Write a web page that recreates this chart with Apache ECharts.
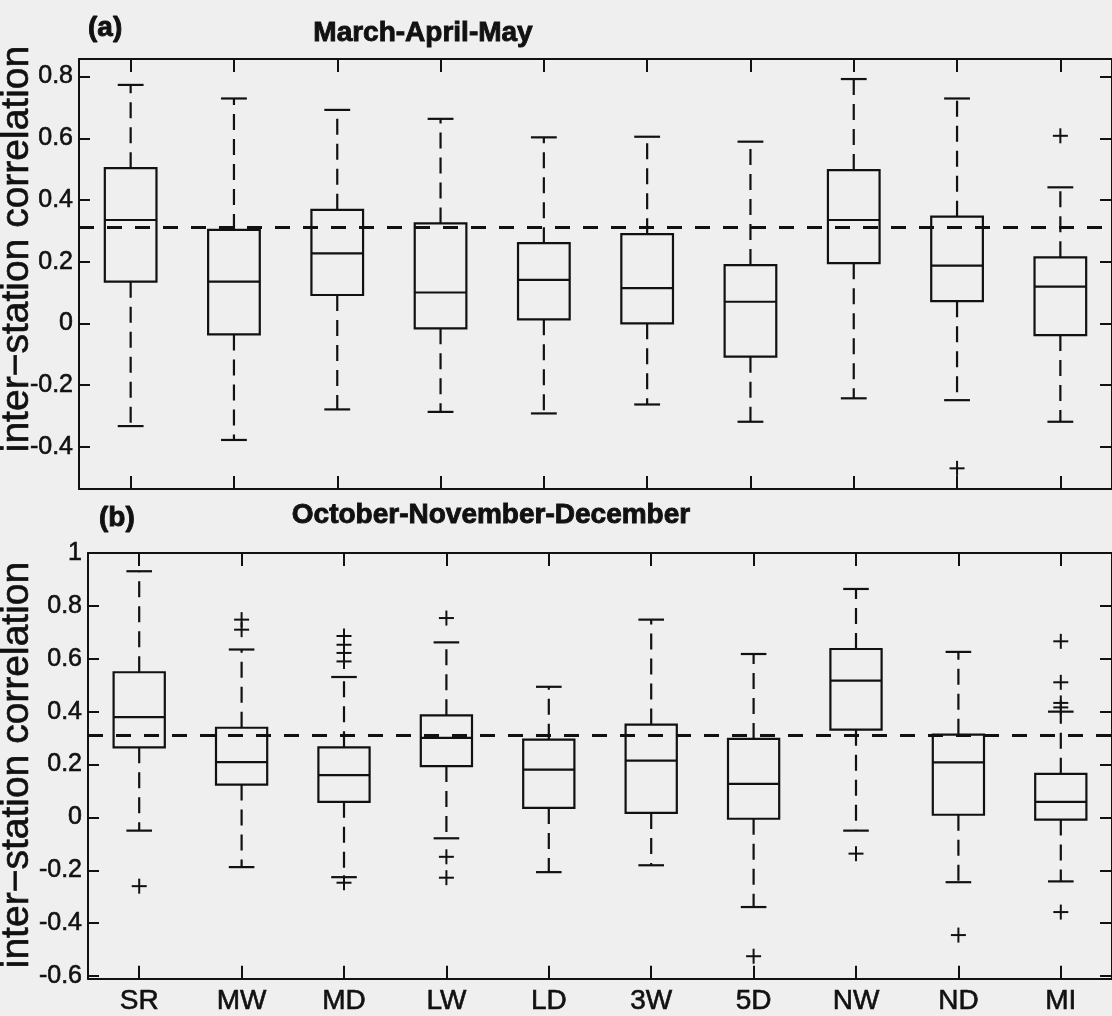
<!DOCTYPE html>
<html>
<head>
<meta charset="utf-8">
<script src="https://cdn.jsdelivr.net/npm/echarts@6/dist/echarts.min.js"></script>
<style>
  html, body { margin: 0; padding: 0; background: #efefef; }
  #chart { width: 1112px; height: 1016px; }
</style>
</head>
<body>
<div id="chart"></div>
<script>
// ---------------- data ----------------
const categories = ['SR', 'MW', 'MD', 'LW', 'LD', '3W', '5D', 'NW', 'ND', 'MI'];

// per category: [lower whisker, Q1, median, Q3, upper whisker]
const mamStats = [
  [-0.333, 0.135, 0.335, 0.503, 0.773],
  [-0.378, -0.036, 0.135, 0.303, 0.729],
  [-0.279, 0.092, 0.227, 0.368, 0.692],
  [-0.287, -0.016, 0.100, 0.324, 0.663],
  [-0.292, 0.013, 0.141, 0.260, 0.603],
  [-0.263, 0.000, 0.114, 0.289, 0.605],
  [-0.319, -0.108, 0.070, 0.189, 0.589],
  [-0.243, 0.195, 0.335, 0.497, 0.792],
  [-0.249, 0.072, 0.187, 0.346, 0.729],
  [-0.319, -0.038, 0.119, 0.214, 0.441]
];
const ondStats = [
  [-0.050, 0.265, 0.379, 0.549, 0.931],
  [-0.188, 0.124, 0.209, 0.339, 0.635],
  [-0.226, 0.059, 0.160, 0.265, 0.531],
  [-0.079, 0.194, 0.301, 0.386, 0.662],
  [-0.207, 0.036, 0.181, 0.294, 0.494],
  [-0.181, 0.017, 0.215, 0.351, 0.748],
  [-0.339, -0.005, 0.127, 0.297, 0.618],
  [-0.050, 0.332, 0.517, 0.637, 0.864],
  [-0.245, 0.010, 0.208, 0.313, 0.626],
  [-0.242, -0.008, 0.059, 0.165, 0.400]
];

// outliers: [category index, value]
const mamOutliers = [
  [8, -0.470],
  [9, 0.608]
];
const ondOutliers = [
  [0, -0.260],
  [1, 0.748], [1, 0.710],
  [2, 0.686], [2, 0.653], [2, 0.622], [2, 0.590], [2, -0.247],
  [3, 0.754], [3, -0.149], [3, -0.228],
  [6, -0.525],
  [7, -0.137],
  [8, -0.445],
  [9, 0.666], [9, 0.511], [9, 0.433], [9, 0.416], [9, -0.358]
];

const mamTicks = [-0.4, -0.2, 0, 0.2, 0.4, 0.6, 0.8];
const ondTicks = [-0.6, -0.4, -0.2, 0, 0.2, 0.4, 0.6, 0.8, 1];
const mamRange = [-0.537, 0.857];
const ondRange = [-0.61, 1.0];
const significance = 0.31;   // dashed reference line

const titles = ['March-April-May', 'October-November-December'];
const panelTags = ['(a)', '(b)'];
const yName = 'inter\u2212station correlation';

// ---------------- styling ----------------
const INK = '#111';
const SANS = "'Liberation Sans', Arial, Helvetica, sans-serif";

function fmt(v) { return String(Math.round(v * 10) / 10); }

function boxRender(params, api) {
  const x = api.value(0);
  const lo = api.value(1), q1 = api.value(2), med = api.value(3), q3 = api.value(4), hi = api.value(5);
  const band = api.size([1, 0])[0];
  const half = band * 0.25;
  const cap = band * 0.125;
  const pLo = api.coord([x, lo]);
  const pQ1 = api.coord([x, q1]);
  const pMed = api.coord([x, med]);
  const pQ3 = api.coord([x, q3]);
  const pHi = api.coord([x, hi]);
  const cx = pMed[0];
  const solid = { stroke: INK, lineWidth: 2.2, fill: null };
  const dashed = { stroke: INK, lineWidth: 2.2, fill: null, lineDash: [16, 9] };
  return {
    type: 'group',
    children: [
      { type: 'rect', shape: { x: cx - half, y: pQ3[1], width: 2 * half, height: pQ1[1] - pQ3[1] }, style: solid },
      { type: 'line', shape: { x1: cx - half, y1: pMed[1], x2: cx + half, y2: pMed[1] }, style: solid },
      { type: 'line', shape: { x1: cx, y1: pQ3[1], x2: cx, y2: pHi[1] }, style: dashed },
      { type: 'line', shape: { x1: cx, y1: pQ1[1], x2: cx, y2: pLo[1] }, style: dashed },
      { type: 'line', shape: { x1: cx - cap, y1: pHi[1], x2: cx + cap, y2: pHi[1] }, style: solid },
      { type: 'line', shape: { x1: cx - cap, y1: pLo[1], x2: cx + cap, y2: pLo[1] }, style: solid }
    ]
  };
}

function plusRender(params, api) {
  const p = api.coord([api.value(0), api.value(1)]);
  const s = 7.5;
  const st = { stroke: INK, lineWidth: 2, fill: null };
  return {
    type: 'group',
    children: [
      { type: 'line', shape: { x1: p[0] - s, y1: p[1], x2: p[0] + s, y2: p[1] }, style: st },
      { type: 'line', shape: { x1: p[0], y1: p[1] - s, x2: p[0], y2: p[1] + s }, style: st }
    ]
  };
}

function rows(stats) {
  return stats.map((s, i) => [i].concat(s));
}

function xAxes(gridIndex, showLabels) {
  const common = {
    gridIndex: gridIndex,
    type: 'category',
    data: categories,
    boundaryGap: true,
    axisLine: { show: true, onZero: false, lineStyle: { color: INK, width: 2 } },
    axisTick: { show: true, inside: true, alignWithLabel: true, length: 13, lineStyle: { color: INK, width: 2 } },
    splitLine: { show: false }
  };
  return [
    Object.assign({}, common, {
      position: 'bottom',
      axisLabel: { show: showLabels, color: INK, fontFamily: SANS, fontSize: 28, margin: 9,
                   textBorderColor: INK, textBorderWidth: 0.6 }
    }),
    Object.assign({}, common, { position: 'top', axisLabel: { show: false } })
  ];
}

function yAxes(gridIndex, range, ticks) {
  const common = {
    gridIndex: gridIndex,
    type: 'value',
    min: range[0],
    max: range[1],
    axisLine: { show: true, onZero: false, lineStyle: { color: INK, width: 2 } },
    splitLine: { show: false }
  };
  return [
    Object.assign({}, common, {
      position: 'left',
      axisTick: { show: true, inside: true, length: 11, customValues: ticks, lineStyle: { color: INK, width: 2 } },
      axisLabel: { show: true, customValues: ticks, formatter: fmt, color: INK, fontFamily: SANS, fontSize: 25, margin: 6,
                   textBorderColor: INK, textBorderWidth: 0.6 }
    }),
    Object.assign({}, common, {
      position: 'right',
      axisTick: { show: true, inside: true, length: 12, customValues: ticks, lineStyle: { color: INK, width: 2 } },
      axisLabel: { show: false }
    })
  ];
}

function refSeries(axisIdx) {
  return {
    type: 'line',
    xAxisIndex: axisIdx,
    yAxisIndex: axisIdx,
    data: [],
    silent: true,
    markLine: {
      silent: true,
      symbol: ['none', 'none'],
      label: { show: false },
      lineStyle: { color: INK, width: 3, type: [15, 13] },
      data: [{ yAxis: significance }]
    }
  };
}

const chart = echarts.init(document.getElementById('chart'), null, { renderer: 'canvas' });

const textStyle = (text, font, align, sw) => ({
  text: text, font: font, fill: INK, align: align, verticalAlign: 'middle',
  stroke: INK, lineWidth: sw
});

const option = {
  backgroundColor: '#efefef',
  animation: false,
  grid: [
    { left: 79, top: 59, width: 1038, height: 430 },
    { left: 88, top: 553, width: 1028, height: 427 }
  ],
  xAxis: xAxes(0, false).concat(xAxes(1, true)),
  yAxis: yAxes(0, mamRange, mamTicks).concat(yAxes(1, ondRange, ondTicks)),
  series: [
    { type: 'custom', xAxisIndex: 0, yAxisIndex: 0, renderItem: boxRender, encode: { x: 0, y: [1, 2, 3, 4, 5] }, data: rows(mamStats), silent: true },
    { type: 'custom', xAxisIndex: 0, yAxisIndex: 0, renderItem: plusRender, encode: { x: 0, y: 1 }, data: mamOutliers, silent: true },
    refSeries(0),
    { type: 'custom', xAxisIndex: 2, yAxisIndex: 2, renderItem: boxRender, encode: { x: 0, y: [1, 2, 3, 4, 5] }, data: rows(ondStats), silent: true },
    { type: 'custom', xAxisIndex: 2, yAxisIndex: 2, renderItem: plusRender, encode: { x: 0, y: 1 }, data: ondOutliers, silent: true },
    refSeries(2)
  ],
  graphic: [
    { type: 'text', x: 88, y: 28, style: textStyle(panelTags[0], 'bold 28px ' + SANS, 'left', 0.9) },
    { type: 'text', x: 423, y: 33, style: textStyle(titles[0], 'bold 28px ' + SANS, 'center', 0.9) },
    { type: 'text', x: 99, y: 518, style: textStyle(panelTags[1], 'bold 28px ' + SANS, 'left', 0.9) },
    { type: 'text', x: 491, y: 515, style: textStyle(titles[1], 'bold 28px ' + SANS, 'center', 0.9) },
    { type: 'text', x: 17, y: 249, rotation: Math.PI / 2, style: textStyle(yName, '39px ' + SANS, 'center', 0.6) },
    { type: 'text', x: 17, y: 765, rotation: Math.PI / 2, style: textStyle(yName, '39px ' + SANS, 'center', 0.6) }
  ]
};
chart.setOption(option);
</script>
</body>
</html>
